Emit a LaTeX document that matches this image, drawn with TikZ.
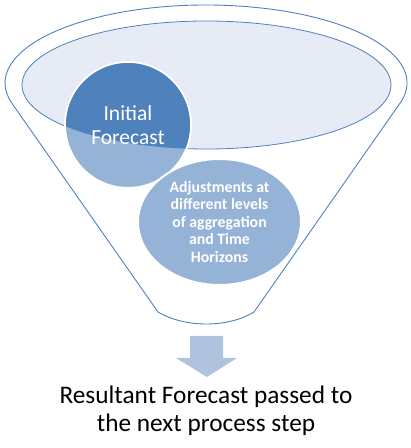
\documentclass[tikz,border=0pt]{standalone}
\usepackage{fontspec}
\setmainfont{Carlito}
\usetikzlibrary{shapes.geometric}
\definecolor{funnelline}{HTML}{4F81BD}
\definecolor{topfill}{HTML}{E6EBF5}
\definecolor{darkblue}{HTML}{4F81BD}
\definecolor{lightblue}{HTML}{95B3D7}
\definecolor{arrowfill}{HTML}{B0C3DE}
\tikzset{
  bubble/.style={fill=lightblue,draw=white,line width=2pt,inner sep=0pt,text=white,align=center},
}
\begin{document}
\begin{tikzpicture}[x=1pt,y=1pt]
      \useasboundingbox (0,0) rectangle (411,448);
      \draw [funnelline,line width=0.9pt,line join=round]
        (206,365) ++(-13:201 and 78) arc [start angle=-13,end angle=195,x radius=201,y radius=78]
        -- (158,136) .. controls (185,120) and (228,120) .. (254,136) -- cycle;
      \draw [funnelline,fill=topfill,line width=0.8pt] (206.5,363) ellipse [x radius=184.5,y radius=64];
      \node [bubble,circle,minimum size=126pt] (init) at (128,323) {};
      \begin{scope}
        \clip (206.5,363) ellipse [x radius=184.5,y radius=64];
        \fill [darkblue] (init.center) circle [radius=62];
      \end{scope}
      \node [text=white,align=center,font=\fontsize{21.5}{24}\selectfont] (initt) at (init.center) {Initial\\Forecast};
      \node [bubble,ellipse,minimum width=163pt,minimum height=126pt,
        font=\bfseries\fontsize{15.8}{17.5}\selectfont] (adj) at (219.5,226)
        {Adjustments at\\different levels\\of aggregation\\and Time\\Horizons};
      \node [align=center,font=\fontsize{25.3}{28}\selectfont] (result) at (206,37)
        {Resultant Forecast passed to\\the next process step};
      \fill [arrowfill] (190,112) -- (223,112) -- (223,90) -- (237,90) -- (207,71)
        -- (176,90) -- (190,90) -- cycle;
    \end{tikzpicture}
\end{document}
